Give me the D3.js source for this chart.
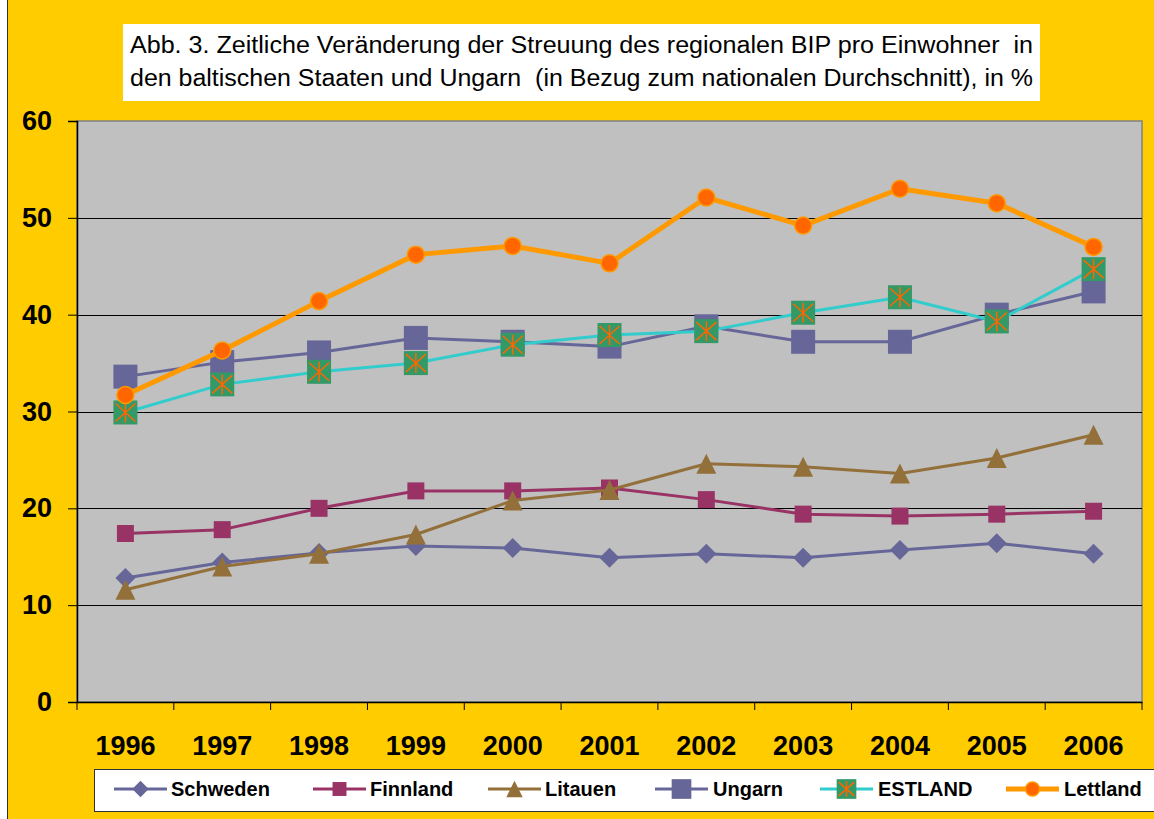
<!DOCTYPE html>
<html>
<head>
<meta charset="utf-8">
<script src="https://cdn.jsdelivr.net/npm/d3@7"></script>
<style>
  body { margin: 0; background: #fff; }
  svg { display: block; font-family: "Liberation Sans", Arial, sans-serif; }
</style>
</head>
<body>
<div id="chart"></div>
<script>
// chart data
var years = ["1996", "1997", "1998", "1999", "2000", "2001", "2002", "2003", "2004", "2005", "2006"];
var schweden = [12.8, 14.4, 15.4, 16.1, 15.9, 14.9, 15.3, 14.9, 15.7, 16.4, 15.3];
var finnland = [17.4, 17.8, 20.0, 21.8, 21.8, 22.1, 20.9, 19.4, 19.2, 19.4, 19.7];
var litauen = [11.6, 14.0, 15.3, 17.3, 20.8, 21.9, 24.6, 24.3, 23.6, 25.2, 27.6];
var ungarn = [33.6, 35.1, 36.1, 37.6, 37.2, 36.7, 38.8, 37.2, 37.2, 40.0, 42.4];
var estland = [29.9, 32.8, 34.1, 35.0, 36.9, 37.9, 38.3, 40.2, 41.8, 39.3, 44.7];
var lettland = [31.7, 36.3, 41.4, 46.2, 47.1, 45.3, 52.1, 49.2, 53.0, 51.5, 47.0];
var yTicks = [0, 10, 20, 30, 40, 50, 60];
var titleLines = [
  "Abb. 3. Zeitliche Veränderung der Streuung des regionalen BIP pro Einwohner  in",
  "den baltischen Staaten und Ungarn  (in Bezug zum nationalen Durchschnitt), in %"
];

var width = 1154, height = 819;
var plot = { left: 77, right: 1142, top: 121, bottom: 702 };

var svg = d3.select("#chart").append("svg")
  .attr("width", width)
  .attr("height", height);

// yellow background
svg.append("rect")
  .attr("x", 7).attr("y", 0)
  .attr("width", width - 7).attr("height", height)
  .style("fill", "#FFCC00");
svg.append("line")
  .attr("x1", 7.5).attr("x2", 7.5).attr("y1", 0).attr("y2", height)
  .style("stroke", "#333").style("stroke-width", 1);

// title box
svg.append("rect")
  .attr("x", 123).attr("y", 24)
  .attr("width", 917).attr("height", 77)
  .style("fill", "#fff");
svg.selectAll(".title")
  .data(titleLines)
  .enter().append("text")
  .attr("class", "title")
  .attr("x", 130)
  .attr("y", function (d, i) { return 53 + i * 33; })
  .attr("textLength", 903)
  .attr("lengthAdjust", "spacingAndGlyphs")
  .style("white-space", "pre")
  .style("font-size", "23px")
  .style("fill", "#000")
  .text(function (d) { return d; });

// scales
var x = d3.scaleBand().domain(years).range([plot.left, plot.right]).padding(0);
var y = d3.scaleLinear().domain([0, 60]).range([plot.bottom, plot.top]);
var cx = function (i) { return x(years[i]) + x.bandwidth() / 2; };

// plot area
svg.append("rect")
  .attr("x", plot.left).attr("y", plot.top)
  .attr("width", plot.right - plot.left).attr("height", plot.bottom - plot.top)
  .style("fill", "#C0C0C0")
  .style("stroke", "#808080")
  .style("stroke-width", 1.5);

// gridlines
svg.selectAll(".grid")
  .data(yTicks.filter(function (d) { return d > 0 && d < 60; }))
  .enter().append("line")
  .attr("class", "grid")
  .attr("x1", plot.left).attr("x2", plot.right)
  .attr("y1", function (d) { return Math.round(y(d)) + 0.5; })
  .attr("y2", function (d) { return Math.round(y(d)) + 0.5; })
  .style("stroke", "#000")
  .style("stroke-width", 1);

// y axis
var yAxis = svg.append("g")
  .attr("transform", "translate(" + plot.left + ",0)")
  .call(d3.axisLeft(y).tickValues(yTicks).tickSize(9).tickPadding(16).tickFormat(d3.format("d")));
yAxis.select(".domain").style("stroke", "#000").style("stroke-width", 1.5);
yAxis.selectAll(".tick line").style("stroke", "#000").style("stroke-width", 1);
yAxis.selectAll(".tick text")
  .style("font-size", "27px").style("font-weight", "bold")
  .style("font-family", "'Liberation Sans', Arial, sans-serif")
  .style("fill", "#000");

// x axis: ticks between categories
var xAxis = svg.append("g")
  .attr("transform", "translate(0," + plot.bottom + ")")
  .call(d3.axisBottom(x).tickSize(0).tickPadding(34));
xAxis.select(".domain").style("stroke", "#000").style("stroke-width", 1.5);
xAxis.selectAll(".tick text")
  .style("font-size", "27px").style("font-weight", "bold")
  .style("font-family", "'Liberation Sans', Arial, sans-serif")
  .style("fill", "#000");
xAxis.selectAll(".sep")
  .data(years.concat(["end"]))
  .enter().append("line")
  .attr("class", "sep")
  .attr("x1", function (d, i) { return i < years.length ? x(d) : plot.right; })
  .attr("x2", function (d, i) { return i < years.length ? x(d) : plot.right; })
  .attr("y1", 0).attr("y2", 8)
  .style("stroke", "#000").style("stroke-width", 1);

// marker shapes
function diamond(r) { return "M0," + -r + "L" + r + ",0L0," + r + "L" + -r + ",0Z"; }
function square(s) { var h = s / 2; return "M" + -h + "," + -h + "h" + s + "v" + s + "h" + -s + "Z"; }
function triangle(s) { var h = s / 2; return "M0," + -h + "L" + h + "," + h + "L" + -h + "," + h + "Z"; }

function drawMarker(g, type, k) {
  if (type === "diamond") {
    g.append("path").attr("d", diamond(10 * k)).style("fill", "#666699");
  } else if (type === "squareF") {
    g.append("path").attr("d", square(17 * k)).style("fill", "#993366");
  } else if (type === "triangle") {
    g.append("path").attr("d", triangle(20 * k)).style("fill", "#93703A");
  } else if (type === "squareU") {
    g.append("path").attr("d", square(24 * k)).style("fill", "#666699");
  } else if (type === "star") {
    var s = 24 * k, h = s / 2;
    g.append("path").attr("d", square(s)).style("fill", "#339966");
    g.append("path")
      .attr("d", "M0," + (-h + 2) + "V" + (h - 2) +
        "M" + (-h + 2) + "," + (-h + 3) + "L" + (h - 2) + "," + (h - 3) +
        "M" + (h - 2) + "," + (-h + 3) + "L" + (-h + 2) + "," + (h - 3))
      .style("stroke", "#FF6600").style("stroke-width", 1.5).style("fill", "none");
  } else if (type === "circle") {
    g.append("circle").attr("r", 8.5 * k)
      .style("fill", "#FF6600").style("stroke", "#FF9900").style("stroke-width", 1.5);
  }
}

var series = [
  { name: "Schweden", values: schweden, color: "#666699", lw: 3, marker: "diamond", lx: 114, tx: 171 },
  { name: "Finnland", values: finnland, color: "#993366", lw: 3, marker: "squareF", lx: 313, tx: 370 },
  { name: "Litauen", values: litauen, color: "#93703A", lw: 3, marker: "triangle", lx: 488, tx: 545 },
  { name: "Ungarn", values: ungarn, color: "#666699", lw: 3, marker: "squareU", lx: 655, tx: 713 },
  { name: "ESTLAND", values: estland, color: "#33CCCC", lw: 3, marker: "star", lx: 820, tx: 878 },
  { name: "Lettland", values: lettland, color: "#FF9900", lw: 5, marker: "circle", lx: 1006, tx: 1064 }
];

var line = d3.line()
  .x(function (d, i) { return cx(i); })
  .y(function (d) { return y(d); });

series.forEach(function (s) {
  var g = svg.append("g").attr("class", "series");
  g.append("path")
    .datum(s.values)
    .attr("d", line)
    .style("fill", "none")
    .style("stroke", s.color)
    .style("stroke-width", s.lw)
    .style("stroke-linejoin", "round");
  s.values.forEach(function (v, i) {
    var m = g.append("g").attr("transform", "translate(" + cx(i) + "," + y(v) + ")");
    drawMarker(m, s.marker, 1);
  });
});

// legend
svg.append("rect")
  .attr("x", 94.5).attr("y", 769.5)
  .attr("width", 1100).attr("height", 42)
  .style("fill", "#fff")
  .style("stroke", "#333")
  .style("stroke-width", 1);

series.forEach(function (s) {
  var g = svg.append("g");
  g.append("line")
    .attr("x1", s.lx).attr("x2", s.lx + 53)
    .attr("y1", 789).attr("y2", 789)
    .style("stroke", s.color)
    .style("stroke-width", s.lw);
  var m = g.append("g").attr("transform", "translate(" + (s.lx + 26.5) + ",789)");
  drawMarker(m, s.marker, 0.82);
  g.append("text")
    .attr("x", s.tx).attr("y", 796)
    .style("font-size", "20px").style("font-weight", "bold")
    .style("fill", "#000")
    .text(s.name);
});
</script>
</body>
</html>
